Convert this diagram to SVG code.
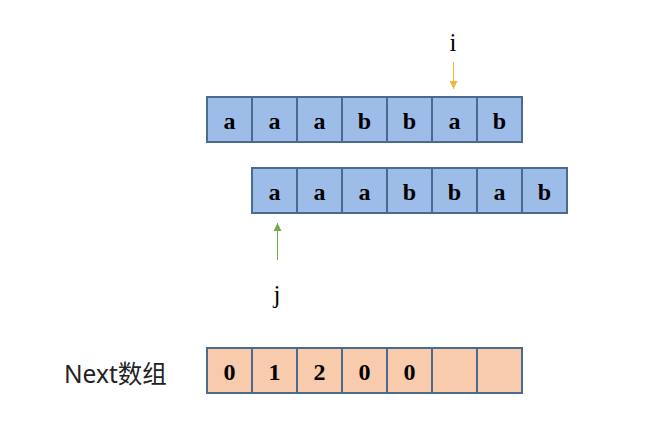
<svg xmlns="http://www.w3.org/2000/svg" width="666" height="432" viewBox="0 0 666 432">
<style>
.b{fill:#9dbde8;stroke:#4a6a8f;stroke-width:2}
.o{fill:#f8cbad;stroke:#4a6a8f;stroke-width:2}
.t{font-family:"Liberation Serif",serif;font-weight:bold;font-size:24px;fill:#000;text-anchor:middle}
.l{font-family:"Liberation Serif",serif;font-size:25px;fill:#000;text-anchor:middle}
</style>
<defs>
<marker id="ay" viewBox="0 0 10 10" refX="10" refY="5" markerWidth="9" markerHeight="8" orient="auto" markerUnits="userSpaceOnUse"><path d="M0,0 L10,5 L0,10 z" fill="#f5b43c"/></marker>
<marker id="ag" viewBox="0 0 10 10" refX="10" refY="5" markerWidth="9" markerHeight="8" orient="auto" markerUnits="userSpaceOnUse"><path d="M0,0 L10,5 L0,10 z" fill="#70ad47"/></marker>
</defs>
<g id="text-array">
<rect class="b" x="207" y="97" width="45" height="45"/><text class="t" x="229.5" y="129">a</text>
<rect class="b" x="252" y="97" width="45" height="45"/><text class="t" x="274.5" y="129">a</text>
<rect class="b" x="297" y="97" width="45" height="45"/><text class="t" x="319.5" y="129">a</text>
<rect class="b" x="342" y="97" width="45" height="45"/><text class="t" x="364.5" y="129">b</text>
<rect class="b" x="387" y="97" width="45" height="45"/><text class="t" x="409.5" y="129">b</text>
<rect class="b" x="432" y="97" width="45" height="45"/><text class="t" x="454.5" y="129">a</text>
<rect class="b" x="477" y="97" width="45" height="45"/><text class="t" x="499.5" y="129">b</text>
</g>
<g id="pattern-array">
<rect class="b" x="252" y="168" width="45" height="45"/><text class="t" x="274.5" y="200">a</text>
<rect class="b" x="297" y="168" width="45" height="45"/><text class="t" x="319.5" y="200">a</text>
<rect class="b" x="342" y="168" width="45" height="45"/><text class="t" x="364.5" y="200">a</text>
<rect class="b" x="387" y="168" width="45" height="45"/><text class="t" x="409.5" y="200">b</text>
<rect class="b" x="432" y="168" width="45" height="45"/><text class="t" x="454.5" y="200">b</text>
<rect class="b" x="477" y="168" width="45" height="45"/><text class="t" x="499.5" y="200">a</text>
<rect class="b" x="522" y="168" width="45" height="45"/><text class="t" x="544.5" y="200">b</text>
</g>
<g id="next-array">
<rect class="o" x="207" y="348" width="45" height="45"/><text class="t" x="229.5" y="380">0</text>
<rect class="o" x="252" y="348" width="45" height="45"/><text class="t" x="274.5" y="380">1</text>
<rect class="o" x="297" y="348" width="45" height="45"/><text class="t" x="319.5" y="380">2</text>
<rect class="o" x="342" y="348" width="45" height="45"/><text class="t" x="364.5" y="380">0</text>
<rect class="o" x="387" y="348" width="45" height="45"/><text class="t" x="409.5" y="380">0</text>
<rect class="o" x="432" y="348" width="45" height="45"/>
<rect class="o" x="477" y="348" width="45" height="45"/>
</g>
<g id="label-i"><text class="l" x="453" y="51">i</text></g>
<g id="label-j"><text class="l" x="277" y="303">j</text></g>
<g id="label-next"><text x="64" y="383" font-family="'Noto Sans','Noto Sans CJK SC',sans-serif" font-size="24.5" fill="#222">Next数组</text></g>
<g id="connectors">
<line x1="453.5" y1="62" x2="453.5" y2="89" stroke="#f5b43c" stroke-width="1" marker-end="url(#ay)"/>
<line x1="277.5" y1="260" x2="277.5" y2="223" stroke="#70ad47" stroke-width="1" marker-end="url(#ag)"/>
</g>
</svg>
